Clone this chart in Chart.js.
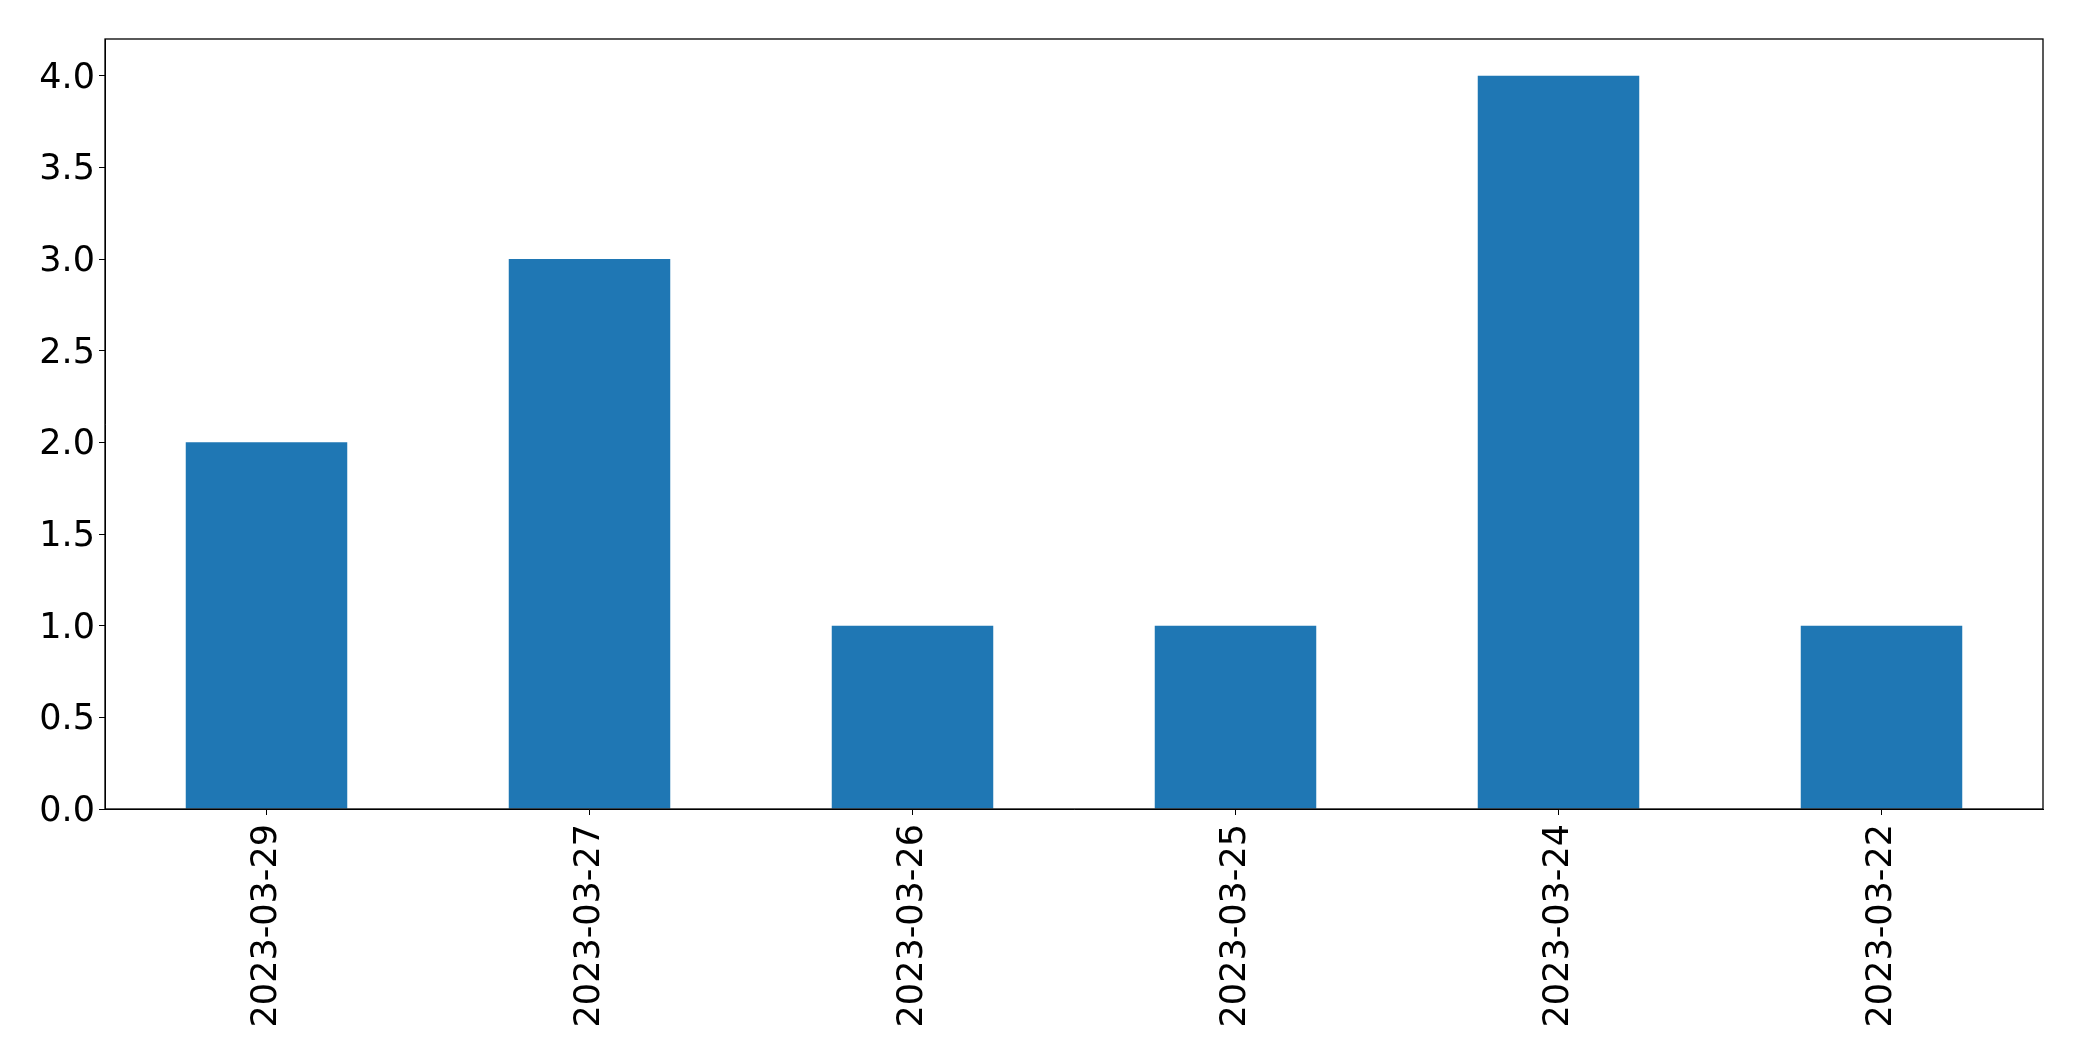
<!DOCTYPE html>
<html>
<head>
<meta charset="utf-8">
<script src="https://cdn.jsdelivr.net/npm/chart.js@4.4.1/dist/chart.umd.min.js"></script>
<style>
    html, body { margin: 0; padding: 0; background: #fff; }
    #chart { display: block; }
</style>
</head>
<body>
<canvas id="chart" width="2082" height="1061"></canvas>
<script>
// Данные графика
const categories = ['2023-03-29', '2023-03-27', '2023-03-26', '2023-03-25', '2023-03-24', '2023-03-22'];
const counts = [2, 3, 1, 1, 4, 1];
const yTicks = [0, 0.5, 1.0, 1.5, 2.0, 2.5, 3.0, 3.5, 4.0];

const FONT = { family: 'DejaVu Sans', size: 35 };

// Рамка вокруг области графика
const framePlugin = {
    id: 'frame',
    afterDraw(chart) {
        const { ctx, chartArea: a } = chart;
        ctx.save();
        ctx.strokeStyle = '#000';
        ctx.lineWidth = 1.3;
        ctx.strokeRect(a.left, a.top, a.right - a.left, a.bottom - a.top);
        ctx.restore();
    }
};

new Chart(document.getElementById('chart'), {
    type: 'bar',
    data: {
        labels: categories,
        datasets: [{
            data: counts,
            backgroundColor: '#1f77b4',
            borderWidth: 0,
            categoryPercentage: 1.0,
            barPercentage: 0.5
        }]
    },
    options: {
        responsive: false,
        animation: false,
        layout: { padding: { top: 39, right: 39, left: 0, bottom: 0 } },
        plugins: {
            legend: { display: false },
            tooltip: { enabled: false }
        },
        scales: {
            x: {
                grid: { offset: false, drawOnChartArea: false, drawTicks: true, tickLength: 6, color: '#000' },
                border: { display: true, color: '#000' },
                ticks: {
                    color: '#000',
                    font: FONT,
                    minRotation: 90,
                    maxRotation: 90,
                    padding: 9
                },
                afterFit: axis => { axis.height = 252; }
            },
            y: {
                min: 0,
                max: 4.2,
                grid: { drawOnChartArea: false, drawTicks: true, tickLength: 6, color: '#000' },
                border: { display: true, color: '#000' },
                ticks: {
                    color: '#000',
                    font: FONT,
                    padding: 4,
                    labelOffset: 3,
                    callback: v => Number(v).toFixed(1)
                },
                afterBuildTicks: axis => { axis.ticks = yTicks.map(v => ({ value: v })); },
                afterFit: axis => { axis.width = 105; }
            }
        }
    },
    plugins: [framePlugin]
});
</script>
</body>
</html>
